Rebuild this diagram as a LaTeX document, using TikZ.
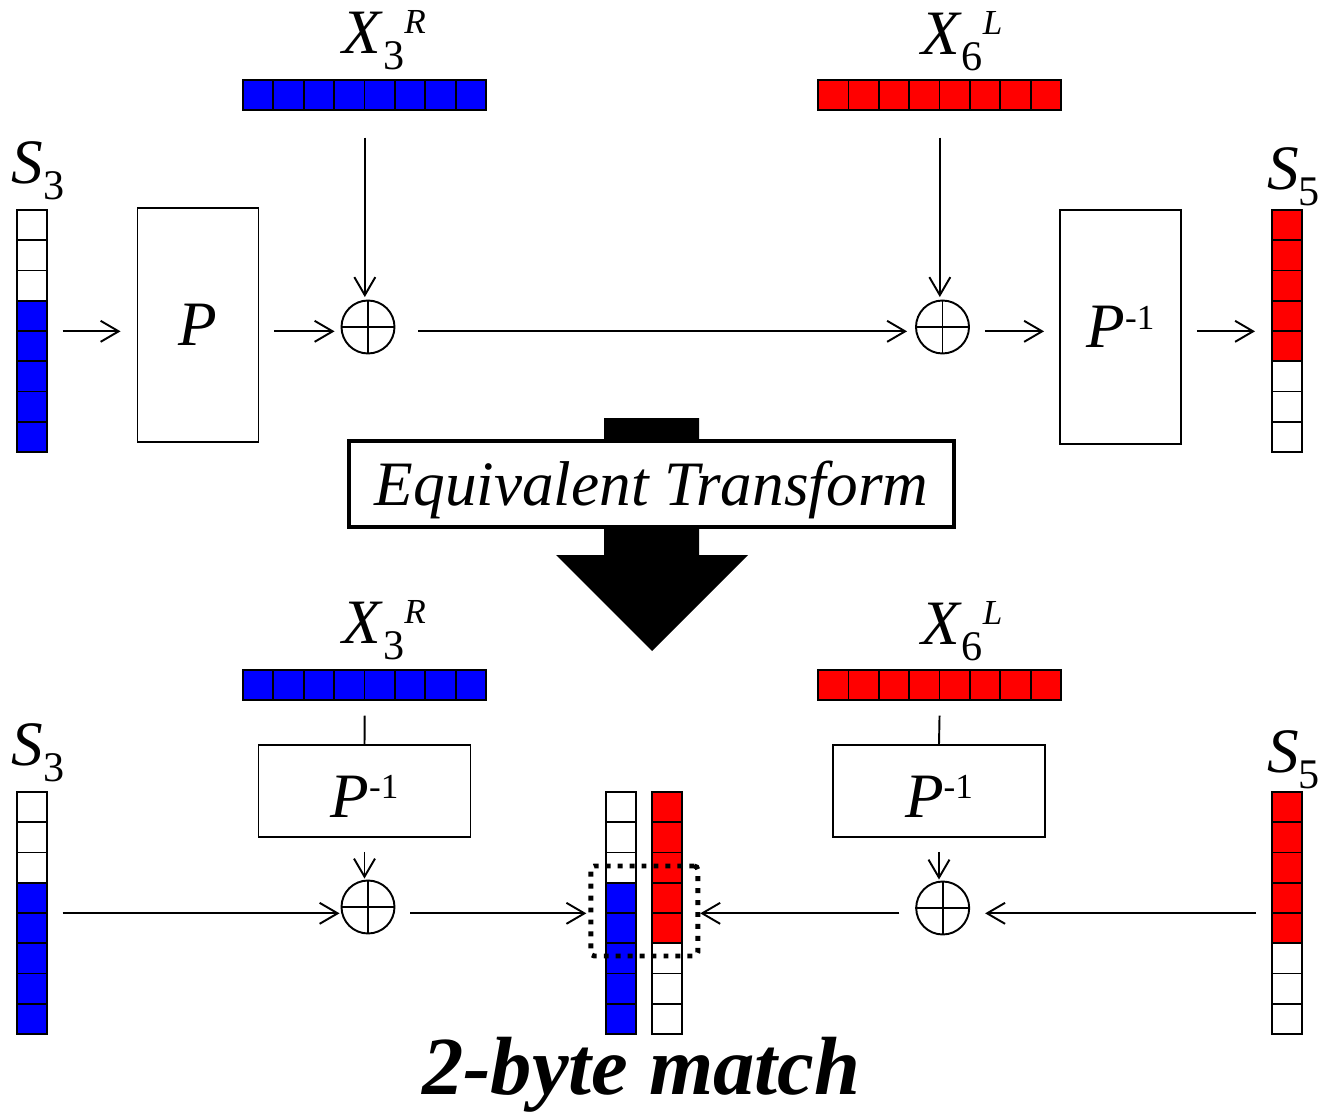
\documentclass[tikz,border=0pt]{standalone}
\usepackage{fontspec}
\setmainfont{Liberation Serif}
\usetikzlibrary{positioning,arrows.meta,calc}

\newcommand{\bytecol}[4]{%
  \foreach \cc [count=\ii from 0] in {#4}
    \draw[cell, fill=\cc] (#2,{#3+\ii*30.25}) rectangle ++(30,30.25);
  \node[inner sep=0pt, minimum width=0.6cm, minimum height=4.84cm, anchor=north west] (#1) at (#2,#3) {};
}
\newcommand{\bytebar}[4]{%
  \foreach \ii in {0,...,7}
    \draw[cell, fill=#4] ({#2+\ii*30.375},#3) rectangle ++(30.375,30);
  \node[inner sep=0pt, minimum width=4.86cm, minimum height=0.6cm, anchor=north west] (#1) at (#2,#3) {};
}
\newcommand{\subvar}[2]{\textit{#1}\raisebox{-8.7pt}{\fontsize{24}{24}\selectfont #2}}
\newcommand{\subsupvar}[3]{\textit{#1}\raisebox{-8.7pt}{\fontsize{24}{24}\selectfont #2}\raisebox{11.5pt}{\fontsize{20}{20}\selectfont\textit{#3}}}
\newcommand{\pinv}{\textit{P}\raisebox{10.6pt}{\fontsize{20}{20}\selectfont -1}}

\begin{document}
\begin{tikzpicture}[
        x=0.02cm, y=-0.02cm,
        cell/.style={draw, line width=1pt},
        block/.style={rectangle, draw, line width=1.1pt, inner sep=0pt, font=\fontsize{36}{36}\selectfont},
        xor/.style={circle, draw, line width=1.1pt, minimum size=1.06cm, inner sep=0pt},
        lbl/.style={inner sep=0pt, font=\fontsize{36}{36}\selectfont},
        arr/.style={-{Straight Barb[length=3.6mm, width=4.2mm]}, line width=1.1pt},
        link/.style={line width=1.1pt},
    ]
    \useasboundingbox (0,0) rectangle (1322,1115);

    % Upper round: S3 -> P -> xor X3R -> xor X6L -> P^-1 -> S5
    \bytecol{s3a}{17}{210}{white,white,white,blue,blue,blue,blue,blue}
    \bytecol{s5a}{1272}{210}{red,red,red,red,red,white,white,white}
    \bytebar{x3a}{243}{80}{blue}
    \bytebar{x6a}{818}{80}{red}
    \node[lbl, above=0.2cm of s3a, xshift=0.12cm] (s3alab) {\subvar{S}{3}};
    \node[lbl, above=0.08cm of s5a, xshift=0.12cm] (s5alab) {\subvar{S}{5}};
    \node[lbl, above=0.2cm of x3a, xshift=0.39cm] (x3alab) {\subsupvar{X}{3}{R}};
    \node[lbl, above=0.18cm of x6a, xshift=0.44cm] (x6alab) {\subsupvar{X}{6}{L}};

    \node[block, minimum width=2.42cm, minimum height=4.68cm] (pbox) at (198,325) {\textit{P}};
    \node[xor] (xor1) at (368,327) {};
    \node[xor] (xor2) at (942.5,327) {};
    \node[block, minimum width=2.42cm, minimum height=4.68cm] (pinvt) at (1120.5,327) {\pinv};

    \draw[arr, shorten <=0.3cm, shorten >=0.32cm] (s3a.east) -- (s3a.east -| pbox.west);
    \draw[arr, shorten <=0.3cm, shorten >=0.12cm] (pbox.east |- s3a.east) -- (s3a.east -| xor1.west);
    \draw[arr, shorten <=0.46cm, shorten >=0.16cm] (xor1.east |- s3a.east) -- (s3a.east -| xor2.west);
    \draw[arr, shorten <=0.3cm, shorten >=0.3cm] (xor2.east |- s3a.east) -- (s3a.east -| pinvt.west);
    \draw[arr, shorten <=0.3cm, shorten >=0.34cm] (pinvt.east |- s3a.east) -- (s5a.west);
    \draw[arr, shorten <=0.54cm, shorten >=0.05cm] (x3a.south) -- (x3a.south |- xor1.north);
    \draw[arr, shorten <=0.54cm, shorten >=0.05cm] (x6a.south) -- (x6a.south |- xor2.north);

    % Transform arrow
    \fill (604,418) -- (699,418) -- (699,555) -- (748,555) -- (652,651) -- (556,555) -- (604,555) -- cycle;
    \node[draw, line width=2.3pt, fill=white, minimum width=12.1cm, minimum height=1.72cm, inner sep=0pt,
          text height=27pt, text depth=2pt, font=\fontsize{36}{36}\selectfont\itshape] (eqt) at (651.5,484) {Equivalent Transform};

    % Lower round: both sides meet in the middle
    \bytecol{s3b}{17}{792}{white,white,white,blue,blue,blue,blue,blue}
    \bytecol{s5b}{1272}{792}{red,red,red,red,red,white,white,white}
    \bytecol{mb}{606}{792}{white,white,white,blue,blue,blue,blue,blue}
    \bytecol{mr}{652}{792}{red,red,red,red,red,white,white,white}
    \bytebar{x3b}{243}{670}{blue}
    \bytebar{x6b}{818}{670}{red}
    \node[lbl, above=0.2cm of s3b, xshift=0.12cm] (s3blab) {\subvar{S}{3}};
    \node[lbl, above=0.06cm of s5b, xshift=0.12cm] (s5blab) {\subvar{S}{5}};
    \node[lbl, above=0.2cm of x3b, xshift=0.39cm] (x3blab) {\subsupvar{X}{3}{R}};
    \node[lbl, above=0.18cm of x6b, xshift=0.44cm] (x6blab) {\subsupvar{X}{6}{L}};

    \node[block, minimum width=4.24cm, minimum height=1.84cm, text height=30pt] (pinvl) at (364.5,791) {\pinv};
    \node[block, minimum width=4.24cm, minimum height=1.84cm, text height=30pt] (pinvr) at (939,791) {\pinv};
    \node[xor] (xor3) at (368,907) {};
    \node[xor] (xor4) at (942.7,908) {};
    \node[draw, line width=2.8pt, dash pattern=on 2.8pt off 4pt, rounded corners=2pt,
          minimum width=2.14cm, minimum height=1.8cm] (match) at (644.3,911) {};

    \draw[link, shorten <=0.3cm] (x3b.south) -- (pinvl.north);
    \draw[link, shorten <=0.3cm] (x6b.south) -- (pinvr.north);
    \draw[arr, shorten <=0.28cm, shorten >=0.02cm] (pinvl.south) -- (pinvl.south |- xor3.north);
    \draw[arr, shorten <=0.28cm, shorten >=0.02cm] (pinvr.south) -- (pinvr.south |- xor4.north);
    \draw[arr, shorten <=0.3cm, shorten >=0.02cm] (s3b.east) -- (s3b.east -| xor3.west);
    \draw[arr, shorten <=0.3cm, shorten >=0.04cm] (xor3.east |- s3b.east) -- (s3b.east -| match.west);
    \draw[arr, shorten <=0.32cm] (xor4.west |- s3b.east) -- (s3b.east -| match.east);
    \draw[arr, shorten <=0.32cm, shorten >=0.3cm] (s5b.west) -- (s5b.west -| xor4.east);

    \foreach \nn in {xor1,xor2,xor3,xor4}
        \draw[link] (\nn.north) -- (\nn.south) (\nn.west) -- (\nn.east);

    \node[lbl, font=\fontsize{47}{47}\selectfont\bfseries\itshape, anchor=base] (res) at (641,1094) {2-byte match};

\end{tikzpicture}
\end{document}
